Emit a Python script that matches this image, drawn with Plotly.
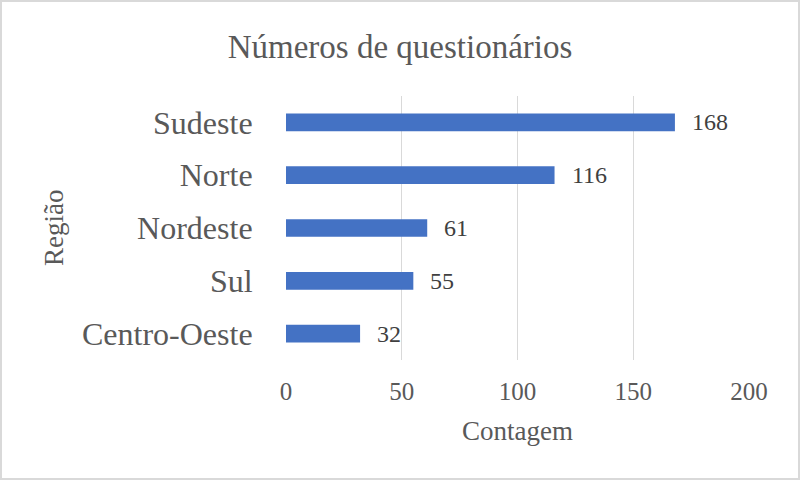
import plotly.graph_objects as go

regioes = ["Centro-Oeste", "Sul", "Nordeste", "Norte", "Sudeste"]
contagem = [32, 55, 61, 116, 168]
x_ticks = [0, 50, 100, 150, 200]

FONT = "Liberation Serif, Times New Roman, serif"
GRAY = "#595959"

fig = go.Figure(
    go.Bar(
        x=contagem,
        y=regioes,
        orientation="h",
        width=0.335,
        marker=dict(color="#4472C4", line=dict(width=0)),
        hoverinfo="skip",
    )
)

for v, r in zip(contagem, regioes):
    fig.add_annotation(
        x=v, y=r, text=str(v), showarrow=False, xanchor="left", xshift=15,
        font=dict(family=FONT, size=24, color="#404040"),
    )

W, H = 800, 480
L, R, T, B = 286, 51, 96, 120
pw, ph = W - L - R, H - T - B

fig.add_annotation(
    text="Contagem", xref="paper", yref="paper",
    x=0.5, y=-(431 - (H - B)) / ph, showarrow=False,
    xanchor="center", yanchor="middle",
    font=dict(family=FONT, size=27, color=GRAY),
)
fig.add_annotation(
    text="Região", xref="paper", yref="paper",
    x=-(L - 54) / pw, y=0.5, showarrow=False, textangle=-90,
    xanchor="center", yanchor="middle",
    font=dict(family=FONT, size=27, color=GRAY),
)

fig.add_shape(
    type="rect", xref="paper", yref="paper",
    x0=-(L - 1) / pw, x1=1 + (R - 1) / pw,
    y0=-(B - 1) / ph, y1=1 + (T - 1) / ph,
    line=dict(color="#D9D9D9", width=2), layer="below",
)

fig.update_layout(
    width=W, height=H,
    margin=dict(l=L, r=R, t=T, b=B),
    paper_bgcolor="white", plot_bgcolor="white",
    showlegend=False,
    title=dict(
        text="Números de questionários", x=0.5, xref="container", xanchor="center",
        y=1 - 46 / H, yanchor="middle",
        font=dict(family=FONT, size=33, color=GRAY),
    ),
    bargap=0.665,
)

fig.update_xaxes(
    range=[0, 200], tickvals=x_ticks, ticktext=[str(t) for t in x_ticks],
    showgrid=True, gridcolor="#D9D9D9", gridwidth=1,
    zeroline=False, showline=False,
    ticks="outside", ticklen=9, tickcolor="rgba(0,0,0,0)",
    tickfont=dict(family=FONT, size=25, color=GRAY),
)
fig.update_yaxes(
    categoryorder="array", categoryarray=regioes,
    showgrid=False, zeroline=False, showline=False,
    ticks="outside", ticklen=26, tickcolor="rgba(0,0,0,0)",
    tickfont=dict(family=FONT, size=32, color=GRAY),
)

fig.write_html(
    "out.html",
    config={"displayModeBar": False, "staticPlot": True},
    post_script="document.body.style.margin='0';document.body.style.overflow='hidden';",
)
